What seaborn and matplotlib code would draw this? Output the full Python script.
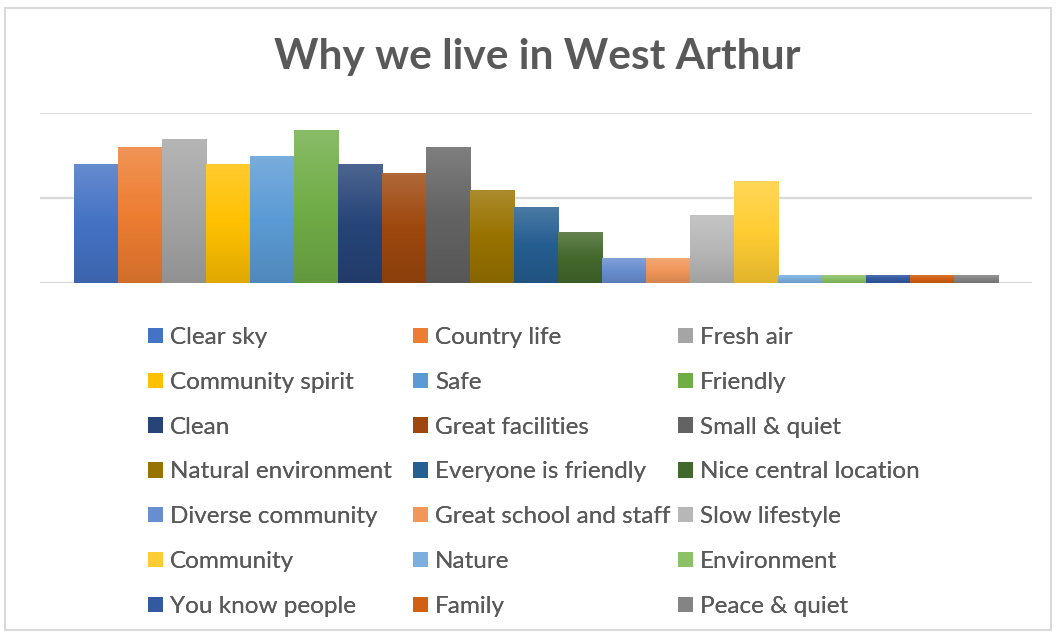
import numpy as np
import pandas as pd
import matplotlib
matplotlib.use("Agg")
import matplotlib.pyplot as plt
import matplotlib.colors as mcolors
from matplotlib.patches import Patch, Rectangle
import seaborn as sns

# ---------------------------------------------------------
# DATA
# ---------------------------------------------------------
reasons = [
    "Clear sky", "Country life", "Fresh air",
    "Community spirit", "Safe", "Friendly",
    "Clean", "Great facilities", "Small & quiet",
    "Natural environment", "Everyone is friendly", "Nice central location",
    "Diverse community", "Great school and staff", "Slow lifestyle",
    "Community", "Nature", "Environment",
    "You know people", "Family", "Peace & quiet",
]
counts = [14, 16, 17, 14, 15, 18, 14, 13, 16, 11, 9, 6, 3, 3, 8, 12, 1, 1, 1, 1, 1]

bar_colors = [
    "#4472C4", "#ED7D31", "#A5A5A5", "#FFC000", "#5B9BD5", "#70AD47",
    "#264478", "#9E480E", "#636363", "#997300", "#255E91", "#43682B",
    "#698ED0", "#F1975A", "#B7B7B7", "#FFCD33", "#7CAFDD", "#8CC168",
    "#335AA1", "#D26012", "#848484",
]

TEXT_COLOR = "#595959"
GRID_COLOR = "#D9D9D9"

df = pd.DataFrame({"reason": reasons, "count": counts})

# ---------------------------------------------------------
# PLOT
# ---------------------------------------------------------
sns.set_theme(style="white")
plt.rcParams["font.family"] = ["Lato", "DejaVu Sans"]

fig = plt.figure(figsize=(10.56, 6.33), dpi=100)
ax = fig.add_axes([40 / 1056, 1 - 283 / 633, (1032 - 40) / 1056, (283 - 113) / 633])

sns.barplot(data=df, x="reason", y="count", hue="reason", palette=bar_colors,
            order=reasons, hue_order=reasons, width=1.0, dodge=False,
            legend=False, saturation=1, ax=ax)

# Excel-ish vertical gradient on each bar
grad = np.linspace(0, 1, 256).reshape(-1, 1)
for patch, col in zip(ax.patches, bar_colors):
    base = np.array(mcolors.to_rgb(col))
    light = base + (1 - base) * 0.18
    dark = base * 0.88
    cmap = mcolors.LinearSegmentedColormap.from_list("g", [dark, base, light])
    x0, y0 = patch.get_x(), patch.get_y()
    w, h = patch.get_width(), patch.get_height()
    im = ax.imshow(grad, cmap=cmap, aspect="auto", origin="lower",
                   extent=[x0, x0 + w, y0, y0 + h], zorder=patch.get_zorder() + 0.1)
    im.set_clip_path(patch)

ax.set_xlim(-1.27, 20.27 + 1.0)
ax.set_ylim(0, 20)
ax.set_yticks([0, 10, 20])
ax.yaxis.grid(True, color=GRID_COLOR, linewidth=1.6)
ax.set_axisbelow(True)
ax.set_xticks([])
ax.set_yticklabels([])
ax.tick_params(left=False, bottom=False)
ax.set_xlabel("")
ax.set_ylabel("")
for s in ax.spines.values():
    s.set_visible(False)

# title
fig.text(537 / 1056, 1 - 57 / 633, "Why we live in West Arthur", ha="center", va="center",
         fontsize=30.5, fontweight="bold", color=TEXT_COLOR)

# legend: 3 columns (row-wise order), one legend per column to match Excel's column widths
ncol = 3
col_x = [148, 413, 678]
for c in range(ncol):
    idx = list(range(c, len(reasons), ncol))
    handles = [Patch(facecolor=bar_colors[i], edgecolor="none") for i in idx]
    labels = [reasons[i] for i in idx]
    leg = fig.legend(handles, labels, loc="upper left",
                     bbox_to_anchor=(col_x[c] / 1056, 1 - 327 / 633), frameon=False,
                     fontsize=17.5, labelcolor=TEXT_COLOR, handlelength=0.6,
                     handleheight=0.6, handletextpad=0.3, labelspacing=0.98,
                     borderpad=0, borderaxespad=0)
    fig.add_artist(leg)

# outer chart border
fig.patches.append(Rectangle((5 / 1056, 3 / 633), 1046 / 1056, 622 / 633,
                             transform=fig.transFigure, fill=False,
                             edgecolor=GRID_COLOR, linewidth=1.5))

fig.savefig("out.png", dpi=100, facecolor="white")
